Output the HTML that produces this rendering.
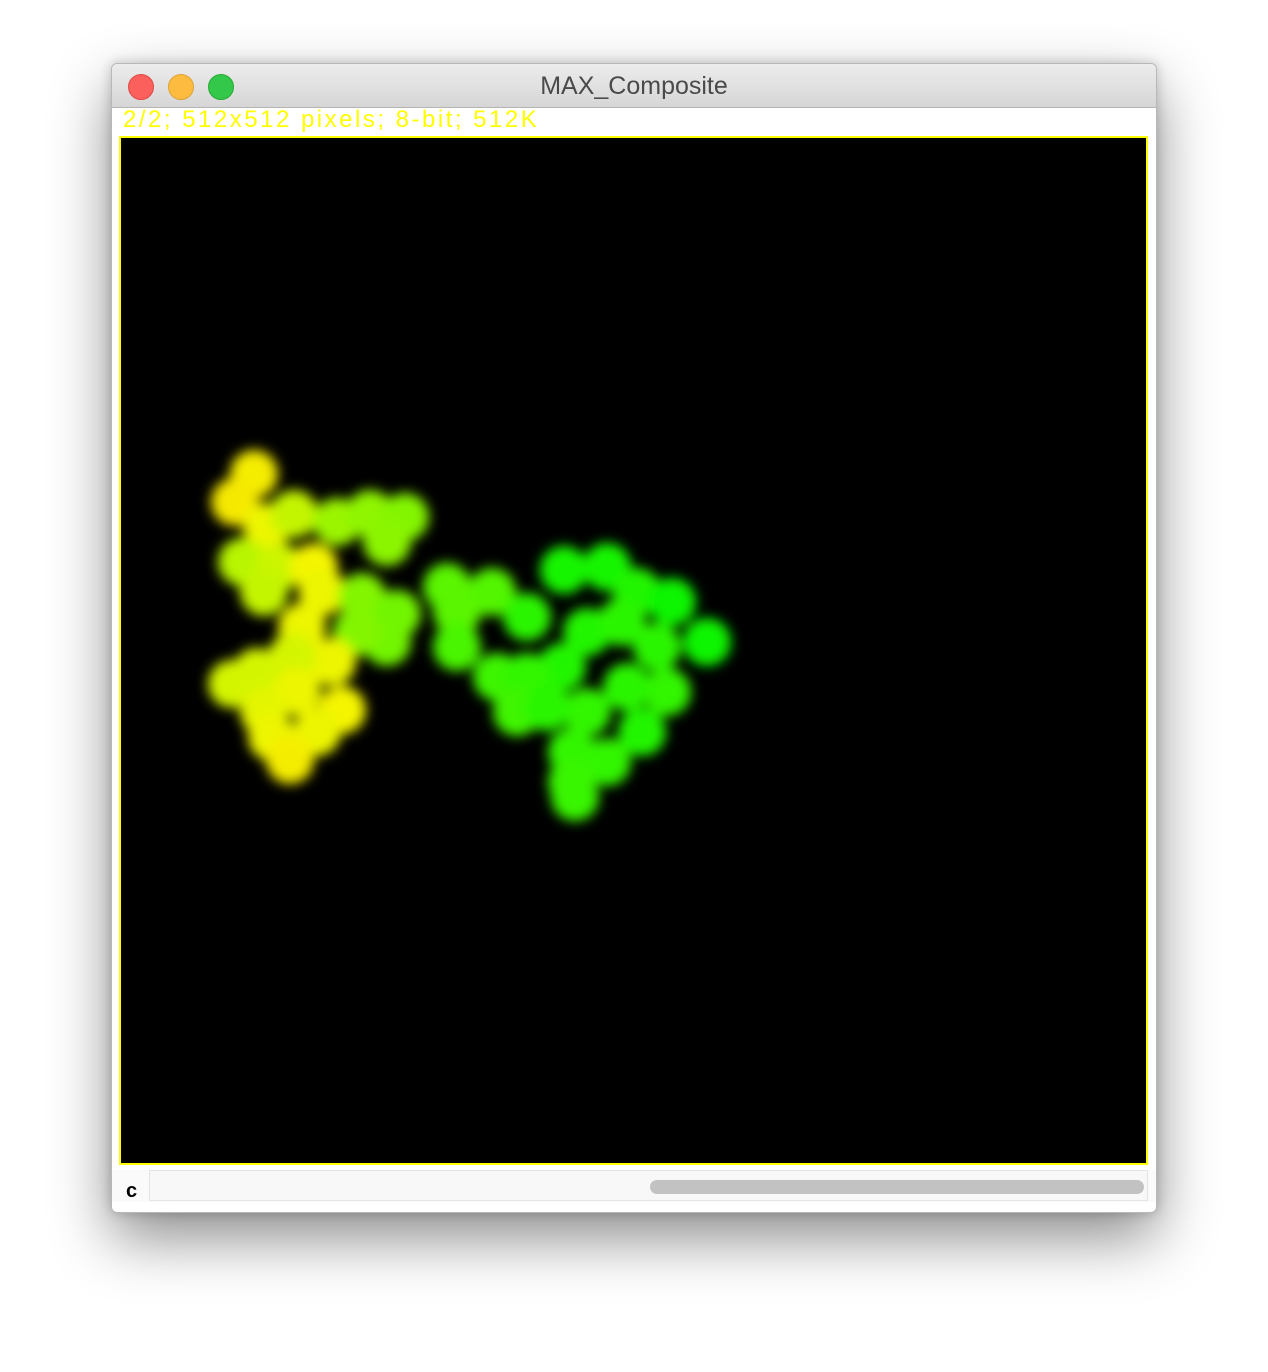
<!DOCTYPE html>
<html><head><meta charset="utf-8"><style>
body{margin:0;width:1268px;height:1372px;background:#fff;position:relative;overflow:hidden;font-family:"Liberation Sans",sans-serif}
#win{position:absolute;left:111px;top:63px;width:1044px;height:1148px;background:#fff;border:1px solid #b8b8b8;border-radius:6px;box-shadow:0 25px 60px rgba(0,0,0,.45),0 0 12px rgba(0,0,0,.2);overflow:hidden}
#title{position:absolute;left:0;top:0;width:100%;height:43px;background:linear-gradient(#ececec,#d6d6d6);border-bottom:1px solid #b4b4b4;text-align:center;line-height:44px;font-size:25px;color:#4a4a4a}
.btn{position:absolute;top:10px;width:24px;height:24px;border-radius:50%}
#info{position:absolute;left:11px;top:42px;font-size:24px;letter-spacing:2.5px;color:#ffff00;white-space:nowrap}
#img{position:absolute;left:7px;top:72px;width:1025px;height:1025px;background:#000;border:2px solid #ffff00}
#scroll{position:absolute;left:0;top:1106px;width:100%;height:32px;background:#fafafa}
#c{position:absolute;left:14px;top:10px;font-size:20px;color:#000;font-weight:bold}
#track{position:absolute;left:37px;top:0;width:997px;height:29px;border:1px solid #e4e4e4;background:#f8f8f8}
#thumb{position:absolute;left:538px;top:10px;width:494px;height:14px;border-radius:7px;background:#c2c2c2}
</style></head><body>
<div id="win">
<div id="title">MAX_Composite
<div class="btn" style="left:16px;background:#fc605c;border:1px solid #de4a45"></div>
<div class="btn" style="left:56px;background:#fdbc40;border:1px solid #dea236"></div>
<div class="btn" style="left:96px;background:#34c84a;border:1px solid #27aa35"></div>
</div>
<div id="info">2/2; 512x512 pixels; 8-bit; 512K</div>
<div id="img">
<svg id="svg" width="1025" height="1025">
<defs><filter id="blur" x="-50%" y="-50%" width="200%" height="200%"><feGaussianBlur stdDeviation="6"/></filter></defs>
<g id="cells" filter="url(#blur)"></g></svg>
</div>
<div id="scroll">
<div id="c">c</div>
<div id="track"></div>
<div id="thumb"></div>
</div>
</div>
<script>
const cellX=[262,243,275,302,250,287,322,272,330,345,378,413,395,370,405,395,365,310,340,300,265,240,305,272,350,280,325,298,
455,500,465,535,465,572,615,645,680,595,630,715,665,570,505,535,675,635,595,525,555,650,580,615,580,583];
const cellY=[482,510,535,522,570,575,575,600,600,530,522,525,550,605,622,650,640,635,670,665,680,692,700,720,718,745,740,768,
595,600,620,625,655,578,575,600,610,640,630,650,655,675,685,685,700,695,720,720,715,740,760,770,790,805];
const cellHue=[58,57,62,72,75,70,60,72,62,82,85,88,86,88,92,92,88,62,62,68,68,68,62,64,60,62,62,58,
98,100,98,110,102,115,115,112,118,112,110,118,110,112,105,108,108,110,108,104,110,112,108,108,106,106];
const g=document.getElementById('cells');
const ox=129,oy=146;
for(let i=0;i<cellX.length;i++){
 const c=document.createElementNS('http://www.w3.org/2000/svg','circle');
 
 
 c.setAttribute('cx',cellX[i]-ox);c.setAttribute('cy',cellY[i]-oy);
 c.setAttribute('r',24);
 c.setAttribute('fill','hsl('+cellHue[i]+',100%,48%)');
 g.appendChild(c);
}
</script>
</body></html>
